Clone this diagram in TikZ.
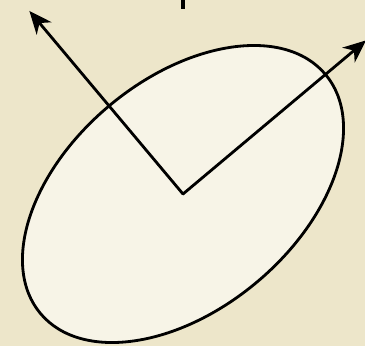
\documentclass[tikz,border=0pt]{standalone}
\usetikzlibrary{calc,arrows.meta}
\definecolor{paper}{RGB}{237,230,202}
\definecolor{cream}{RGB}{247,244,231}
\begin{document}
\begin{tikzpicture}[line width=1.6pt, line cap=round, line join=round]
        % background
        \path[fill=paper, use as bounding box](-3.66,-3.04)rectangle(3.64,3.88);
        % ellipse
        \coordinate(O)at(0,0);
        \path[draw, fill=cream, rotate=40](O)ellipse[x radius=3.72, y radius=2.30];
        % axes
        \coordinate(u)at(40:4.78);
        \coordinate(v)at(130:4.78);
        \path[draw, -{Stealth[length=13pt, width=11pt, inset=4pt]}](O)to(u);
        \path[draw, -{Stealth[length=13pt, width=11pt, inset=4pt]}](O)to(v);
        % mark at top
        \coordinate(m1)at(0,3.95);
        \coordinate(m2)at(0,3.70);
        \path[draw, line width=2pt, line cap=butt](m1)to(m2);
    \end{tikzpicture}
\end{document}
